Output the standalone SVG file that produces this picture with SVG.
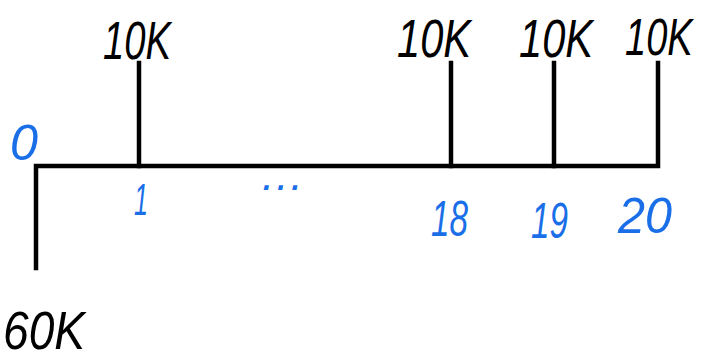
<svg xmlns="http://www.w3.org/2000/svg" width="709" height="364" viewBox="0 0 709 364">
<style>
.ln{stroke:#000;stroke-width:4.5;fill:none;stroke-linecap:square}
.amt{font-family:"Liberation Sans",sans-serif;font-size:54px;fill:#000;font-style:italic}
.per{font-family:"Liberation Sans",sans-serif;font-size:50px;fill:#1a6fe8;font-style:italic}
</style>
<rect width="709" height="364" fill="#fff"/>
<g id="connectors">
<path class="ln" d="M36,268 V166 H658 V63"/>
<path class="ln" d="M139,63 V166"/>
<path class="ln" d="M451,63 V166"/>
<path class="ln" d="M554,63 V166"/>
</g>
<g id="t0"><text class="per" x="10" y="160" textLength="28" lengthAdjust="spacingAndGlyphs">0</text><text class="amt" x="3" y="349" style="font-size:54px" textLength="82" lengthAdjust="spacingAndGlyphs">60K</text></g>
<g id="t1"><text class="per" x="134" y="215" style="font-size:44px" textLength="14" lengthAdjust="spacingAndGlyphs">1</text><text class="amt" x="103" y="59" textLength="68" lengthAdjust="spacingAndGlyphs">10K</text></g>
<g id="dots"><text class="per" x="262" y="190" style="font-size:44px" letter-spacing="2">...</text></g>
<g id="t18"><text class="per" x="431" y="236" textLength="37" lengthAdjust="spacingAndGlyphs">18</text><text class="amt" x="397" y="57" textLength="74" lengthAdjust="spacingAndGlyphs">10K</text></g>
<g id="t19"><text class="per" x="531" y="238" textLength="37" lengthAdjust="spacingAndGlyphs">19</text><text class="amt" x="519" y="57" textLength="74" lengthAdjust="spacingAndGlyphs">10K</text></g>
<g id="t20"><text class="per" x="618" y="233" textLength="54" lengthAdjust="spacingAndGlyphs">20</text><text class="amt" transform="translate(625,55) scale(1,1.35)" style="font-size:38px">10K</text></g>
</svg>
